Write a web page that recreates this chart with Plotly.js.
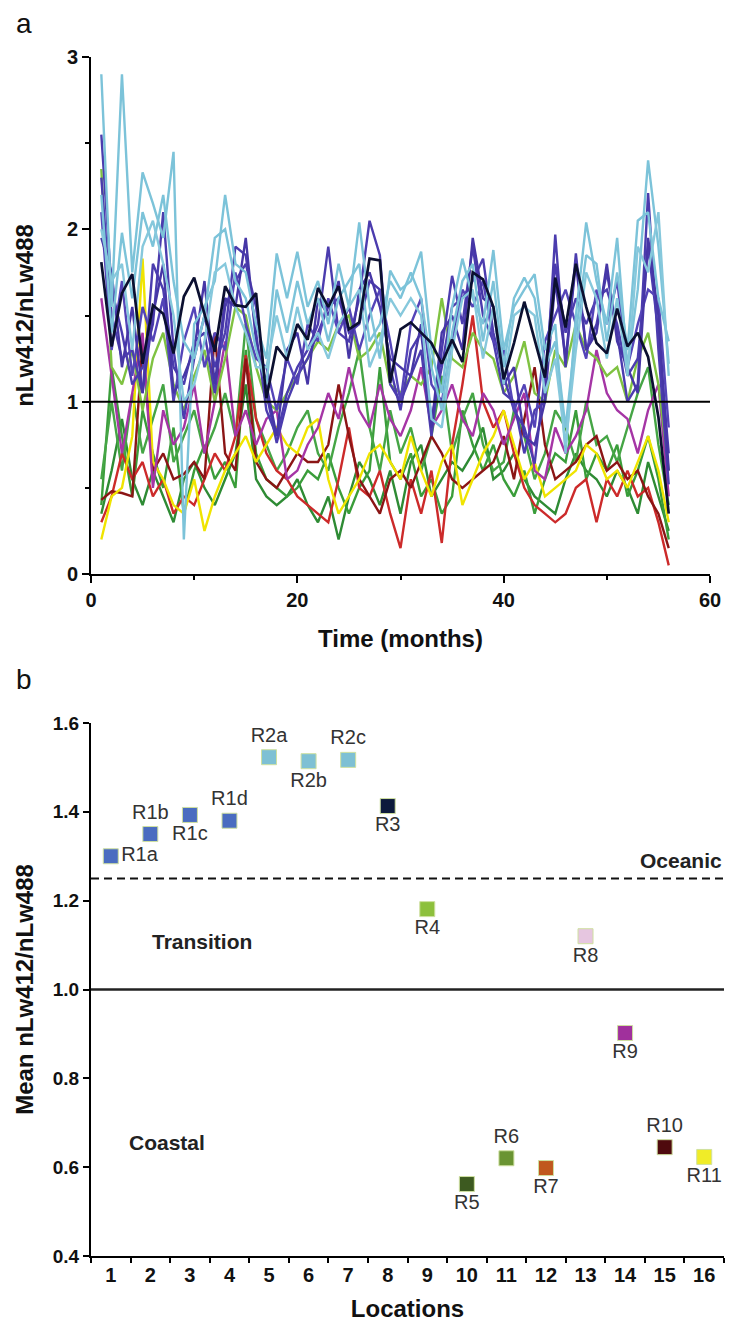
<!DOCTYPE html>
<html>
<head>
<meta charset="utf-8">
<script src="https://cdn.plot.ly/plotly-3.0.1.min.js"></script>
<style>html,body{margin:0;padding:0;background:#fff;}#chart{width:730px;height:1325px;}</style>
</head>
<body>
<div id="chart"></div>
<script>
// ---------- Panel a: monthly time series ----------
const months = [1,2,3,4,5,6,7,8,9,10,11,12,13,14,15,16,17,18,19,20,21,22,23,24,25,26,27,28,29,30,31,32,33,34,35,36,37,38,39,40,41,42,43,44,45,46,47,48,49,50,51,52,53,54,55,56];

const R1a = [2.55,1.65,1.40,1.10,1.20,1.45,2.10,1.30,0.90,1.25,1.50,1.20,1.40,1.90,1.85,1.40,0.95,0.80,1.05,1.20,1.30,1.45,1.90,1.40,1.35,1.60,2.05,1.85,1.10,1.00,1.15,1.30,0.80,1.30,1.73,1.45,1.90,1.50,1.35,1.05,1.00,0.70,0.95,1.00,1.97,1.20,1.86,1.30,1.45,1.75,1.40,1.00,1.10,2.21,1.30,0.52];
const R1b = [2.30,1.50,1.25,1.30,1.05,1.80,1.65,1.20,1.10,1.35,1.40,1.05,1.55,1.70,1.80,1.55,1.05,0.76,1.00,1.15,1.25,1.40,1.55,1.60,1.40,1.45,1.70,1.65,1.20,0.95,1.30,1.40,0.90,1.20,1.55,1.60,1.70,1.83,1.40,1.15,0.95,0.85,0.64,1.15,1.80,1.40,1.60,1.45,1.60,1.65,1.45,1.15,1.25,1.90,1.40,0.70];
const R1c = [2.10,1.30,1.70,1.15,1.55,1.35,1.60,1.00,1.35,1.55,1.20,1.40,1.30,1.75,1.45,1.25,1.20,0.95,1.25,1.10,1.45,1.35,1.60,1.40,1.55,1.30,1.50,1.65,1.35,1.00,1.45,1.60,1.10,1.00,1.35,1.65,1.55,1.70,1.35,1.30,0.95,1.10,0.85,1.35,1.50,1.65,1.45,1.25,1.65,1.45,1.70,1.20,1.45,1.65,1.60,0.85];
const R1d = [1.95,1.75,1.20,1.55,1.05,1.50,1.80,1.05,1.15,1.30,1.70,1.10,1.60,1.55,1.95,1.35,1.10,0.80,1.30,1.40,1.10,1.60,1.50,1.70,1.25,1.65,1.75,1.55,1.25,1.20,1.15,1.45,0.85,1.40,1.50,1.30,1.95,1.60,1.55,1.10,1.20,0.80,0.75,1.00,1.70,1.25,1.80,1.30,1.40,1.80,1.35,1.20,1.05,1.95,1.50,0.60];
const R2a = [2.90,1.55,2.90,1.75,2.33,2.15,1.95,2.45,0.20,1.45,1.55,1.70,2.20,1.80,1.75,1.45,1.25,1.86,1.60,1.87,1.55,1.70,1.45,1.80,1.55,2.04,1.55,1.25,1.76,1.65,1.70,1.87,1.30,1.05,1.55,1.83,1.60,1.45,1.88,1.30,1.55,1.65,1.74,1.30,1.45,0.70,1.50,2.04,1.70,1.45,1.95,1.20,1.65,2.40,1.90,1.22];
const R2b = [2.20,1.40,1.98,1.60,2.10,1.90,2.20,1.70,1.35,1.25,1.50,1.95,2.00,1.70,1.60,1.30,1.10,1.65,1.40,1.70,1.45,1.60,1.35,1.60,1.70,1.80,1.35,1.45,1.70,1.60,1.75,1.60,1.20,0.95,1.40,1.70,1.80,1.35,1.70,1.20,1.60,1.72,1.60,1.20,1.35,0.85,1.40,1.85,1.80,1.35,1.75,1.30,2.05,2.10,1.60,1.35];
const R2c = [2.00,1.70,1.80,1.30,1.90,2.05,1.80,1.50,1.00,1.10,1.35,1.75,1.80,1.55,1.40,1.20,1.20,1.50,1.25,1.55,1.30,1.40,1.25,1.45,1.55,1.65,1.20,1.35,1.60,1.50,1.60,1.50,0.90,0.85,1.30,1.60,1.65,1.25,1.55,1.10,1.50,1.55,1.50,1.05,1.25,0.75,1.30,1.75,1.60,1.25,1.60,1.15,1.90,1.75,2.10,1.15];
const R3  = [1.81,1.32,1.63,1.74,1.22,1.56,1.51,1.28,1.61,1.72,1.51,1.29,1.67,1.56,1.55,1.63,1.02,1.32,1.24,1.45,1.36,1.66,1.55,1.67,1.42,1.46,1.83,1.82,1.11,1.42,1.46,1.40,1.34,1.22,1.36,1.23,1.75,1.71,1.55,1.13,1.34,1.58,1.36,1.14,1.72,1.43,1.80,1.55,1.34,1.28,1.54,1.32,1.40,1.26,0.91,0.35];
const R4  = [2.35,1.20,1.10,1.30,0.95,1.25,1.40,1.10,0.95,1.15,1.30,1.00,1.25,1.55,1.50,1.20,1.00,0.95,1.05,1.15,1.25,1.35,1.30,1.45,1.50,1.25,1.30,1.40,1.10,1.05,1.15,1.10,1.20,1.60,1.25,1.20,1.40,1.30,1.25,1.05,1.15,1.35,1.05,1.00,1.30,1.20,1.45,1.30,1.25,1.15,1.20,1.00,1.25,1.40,1.10,0.60];
const R5  = [0.35,0.60,0.90,0.55,0.40,0.60,0.45,0.30,0.55,0.65,0.50,0.40,0.55,0.70,1.10,0.55,0.45,0.40,0.45,0.55,0.40,0.30,0.45,0.20,0.45,0.65,0.55,0.40,0.60,0.35,0.65,0.75,0.45,0.55,0.65,0.60,0.70,0.85,0.55,0.60,0.70,0.55,0.45,0.40,0.35,0.55,0.70,0.60,0.55,0.45,0.60,0.50,0.35,0.65,0.45,0.25];
const R6  = [0.40,1.20,0.80,0.45,0.95,0.70,0.50,0.85,0.35,0.60,0.75,0.55,0.65,0.50,1.30,0.70,0.55,0.50,0.45,0.50,0.60,0.55,0.70,0.50,0.35,0.50,0.60,1.20,0.65,0.55,0.70,0.45,0.55,0.35,0.45,0.95,0.75,0.60,0.75,0.55,0.45,0.60,0.35,0.55,0.70,0.65,0.95,0.55,0.70,0.60,0.75,0.45,0.60,0.80,0.55,0.20];
const R7  = [0.30,0.45,0.70,0.55,0.65,0.45,0.55,0.35,0.45,0.40,0.55,0.70,0.60,0.80,1.27,0.90,0.70,0.60,0.55,0.45,0.40,0.35,0.30,0.55,0.85,0.50,0.45,0.60,0.35,0.15,0.55,0.35,0.60,0.18,0.75,1.10,1.50,1.00,0.85,0.95,0.70,0.50,0.40,0.35,0.30,0.35,0.50,0.55,0.30,0.55,0.45,0.60,0.45,0.50,0.30,0.05];
const R8  = [0.55,1.00,0.60,1.05,0.70,0.90,1.10,0.65,0.80,0.95,0.70,0.85,1.05,0.80,1.45,0.90,0.75,0.60,0.70,0.85,0.95,0.70,0.60,0.85,1.05,1.30,0.85,0.60,0.95,0.70,0.85,0.60,0.80,1.15,0.70,0.90,1.05,0.75,0.60,0.65,0.95,0.80,0.55,0.70,0.95,0.85,0.65,1.00,0.75,0.80,0.65,0.85,1.05,1.20,0.75,0.40];
const R9  = [1.60,1.15,0.70,1.05,1.40,0.50,0.95,0.75,0.85,1.10,0.70,1.00,1.35,0.80,0.95,0.75,0.90,0.95,0.55,0.60,0.75,0.85,1.05,0.90,1.20,0.95,0.85,1.10,0.90,0.80,0.95,1.20,0.85,0.95,1.10,0.90,0.80,1.05,0.95,0.75,0.90,1.05,0.60,0.55,0.85,0.70,0.80,0.95,1.30,1.05,0.95,0.90,0.70,0.95,1.10,0.45];
const R10 = [0.43,0.48,0.47,0.45,1.35,0.60,0.70,0.55,0.58,0.65,0.55,1.40,0.70,0.60,1.25,0.65,0.55,0.50,0.60,0.70,0.65,0.65,0.75,1.10,0.80,0.55,0.45,0.35,0.55,0.60,0.50,0.65,0.80,0.70,0.55,0.50,0.55,0.60,0.65,0.80,0.55,0.90,1.20,0.75,0.55,0.60,0.65,0.75,0.80,0.60,0.65,0.55,0.60,0.45,0.35,0.15];
const R11 = [0.20,0.45,0.50,0.80,1.83,0.65,0.55,0.40,0.35,0.55,0.25,0.45,0.60,0.70,0.80,0.65,0.75,0.85,0.75,0.70,0.85,0.90,0.55,0.35,0.45,0.55,0.70,0.75,0.65,0.55,0.80,0.60,0.45,0.65,0.75,0.40,0.55,0.70,0.80,0.95,0.75,0.55,0.65,0.45,0.50,0.55,0.60,0.75,0.70,0.55,0.60,0.50,0.65,0.80,0.60,0.30];

// drawing order (back to front) and line colours
const seriesOrder  = ["R5","R6","R8","R7","R10","R11","R9","R4","R1a","R1b","R1c","R1d","R2a","R2b","R2c","R3"];
const seriesValues = {R1a,R1b,R1c,R1d,R2a,R2b,R2c,R3,R4,R5,R6,R7,R8,R9,R10,R11};
const lineColors = {R1a:"#4b3cae",R1b:"#4b3cae",R1c:"#5444b8",R1d:"#4636a6",
  R2a:"#7cc3d9",R2b:"#7cc3d9",R2c:"#86c8dc",R3:"#0b0f30",R4:"#7fc241",
  R5:"#2e8b34",R6:"#3a9d3a",R7:"#cc2a2a",R8:"#45a545",R9:"#a535a5",R10:"#8b1515",R11:"#f0e400"};

// ---------- Panel b: mean ratio per location ----------
const locations  = [1,2,3,4,5,6,7,8,9,10,11,12,13,14,15,16];
const locNames   = ["R1a","R1b","R1c","R1d","R2a","R2b","R2c","R3","R4","R5","R6","R7","R8","R9","R10","R11"];
const meanRatio  = [1.30,1.35,1.393,1.38,1.523,1.514,1.517,1.413,1.181,0.562,0.62,0.598,1.12,0.902,0.645,0.623];
const markerColors = ["#4a6cc0","#4a6cc0","#4a6cc0","#4a6cc0","#7ec0d4","#7ec0d4","#7ec0d4","#0d1a3c","#8dc03c","#3d5a20","#6a9432","#c0581e","#e6c6e0","#a0309c","#4f0a0e","#f0ec28"];
const labelPos   = ["middle right","top center","bottom center","top center","top center","bottom center","top center","bottom center","bottom center","bottom center","top center","bottom center","bottom center","bottom center","top center","bottom center"];
const oceanicThreshold = 1.25;
const coastalThreshold = 1.0;

const FONT = "'Liberation Sans', Arial, Helvetica, sans-serif";
const W = 730, H = 1325;

const traces = [];
seriesOrder.forEach(name => {
  traces.push({
    type: "scatter", mode: "lines", x: months, y: seriesValues[name], name: name,
    xaxis: "x", yaxis: "y", line: {color: lineColors[name], width: name === "R3" ? 2.7 : 2.4},
    hoverinfo: "skip"
  });
});
traces.push({
  type: "scatter", mode: "markers+text", x: locations, y: meanRatio, text: locNames,
  textposition: labelPos, xaxis: "x2", yaxis: "y2",
  textfont: {family: FONT, size: 20, color: "#333"},
  marker: {symbol: "square", size: 15, color: markerColors, line: {color: "#cfe0a0", width: 1}},
  cliponaxis: false, hoverinfo: "skip"
});

const axBase = {
  showline: true, linecolor: "#000", linewidth: 2, showgrid: false, zeroline: false,
  ticks: "outside", tickcolor: "#000", tickwidth: 2, ticklen: 7,
  tickfont: {family: FONT, size: 20, color: "#111", weight: 700},
  automargin: false
};

const layout = {
  width: W, height: H, margin: {l: 0, r: 0, t: 0, b: 0},
  paper_bgcolor: "#fff", plot_bgcolor: "#fff", showlegend: false,
  font: {family: FONT},
  xaxis: Object.assign({}, axBase, {
    domain: [91/W, 710/W], range: [0, 60], anchor: "y",
    tickmode: "array", tickvals: [0, 20, 40, 60],
    minor: {tickmode: "linear", tick0: 0, dtick: 10, ticks: "outside", ticklen: 4, tickwidth: 2, tickcolor: "#000"},
    title: {text: "Time (months)", font: {family: FONT, size: 24, color: "#111", weight: 700}, standoff: 20}
  }),
  yaxis: Object.assign({}, axBase, {
    domain: [1 - 574/H, 1 - 57/H], range: [0, 3], anchor: "x",
    tickmode: "array", tickvals: [0, 1, 2, 3],
    minor: {tickmode: "linear", tick0: 0, dtick: 0.5, ticks: "outside", ticklen: 4, tickwidth: 2, tickcolor: "#000"},
    title: {text: "nLw412/nLw488", font: {family: FONT, size: 24, color: "#111", weight: 700}, standoff: 26}
  }),
  xaxis2: Object.assign({}, axBase, {
    domain: [91/W, 724/W], range: [0.5, 16.5], anchor: "y2",
    tickmode: "array", tickvals: locations, ticks: "",
    minor: {tickmode: "linear", tick0: 0.5, dtick: 1, ticks: "outside", ticklen: 5, tickwidth: 2, tickcolor: "#000"},
    title: {text: "Locations", font: {family: FONT, size: 24, color: "#111", weight: 700}, standoff: 15}
  }),
  yaxis2: Object.assign({}, axBase, {
    domain: [1 - 1256/H, 1 - 723/H], range: [0.4, 1.6], anchor: "x2",
    tickmode: "linear", tick0: 0.4, dtick: 0.2, tickformat: ".1f", ticklen: 6,
    tickfont: {family: FONT, size: 19, color: "#111", weight: 700},
    title: {text: "Mean nLw412/nLw488", font: {family: FONT, size: 24, color: "#111", weight: 700}, standoff: 12}
  }),
  shapes: [
    {type: "line", xref: "x domain", yref: "y", x0: 0, x1: 1, y0: 1, y1: 1, line: {color: "#000", width: 2}},
    {type: "line", xref: "x2 domain", yref: "y2", x0: 0, x1: 1, y0: oceanicThreshold, y1: oceanicThreshold, line: {color: "#111", width: 2, dash: "8px,5px"}},
    {type: "line", xref: "x2 domain", yref: "y2", x0: 0, x1: 1, y0: coastalThreshold, y1: coastalThreshold, line: {color: "#222", width: 2.5}}
  ],
  annotations: [
    {text: "a", xref: "paper", yref: "paper", x: 24/W, y: 1 - 23/H, xanchor: "center", yanchor: "middle", showarrow: false, font: {family: FONT, size: 28, color: "#111"}},
    {text: "b", xref: "paper", yref: "paper", x: 24/W, y: 1 - 679/H, xanchor: "center", yanchor: "middle", showarrow: false, font: {family: FONT, size: 28, color: "#111"}},
    {text: "Oceanic", xref: "x2 domain", yref: "y2", x: 1, y: oceanicThreshold, xanchor: "right", yanchor: "bottom", yshift: 4, showarrow: false, font: {family: FONT, size: 21, color: "#222", weight: 700}},
    {text: "Transition", xref: "x2", yref: "y2", x: 3.3, y: 1.109, xanchor: "center", yanchor: "middle", showarrow: false, font: {family: FONT, size: 21, color: "#222", weight: 700}},
    {text: "Coastal", xref: "x2", yref: "y2", x: 2.43, y: 0.656, xanchor: "center", yanchor: "middle", showarrow: false, font: {family: FONT, size: 21, color: "#222", weight: 700}}
  ]
};

Plotly.newPlot("chart", traces, layout, {staticPlot: true, displayModeBar: false});
</script>
</body>
</html>
